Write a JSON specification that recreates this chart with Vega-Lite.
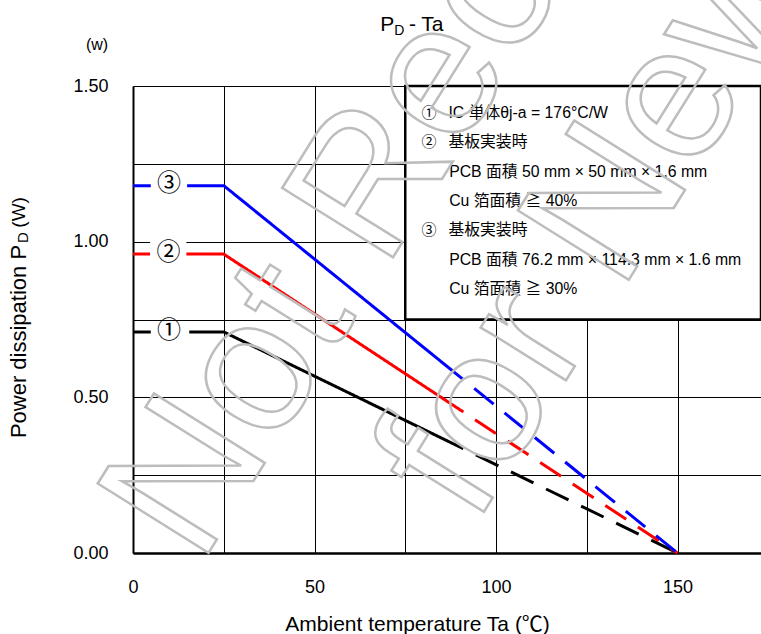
{
  "$schema": "https://vega.github.io/schema/vega-lite/v6.json",
  "width": 628,
  "height": 467,
  "autosize": "none",
  "padding": {"left": 133, "top": 86, "right": 0, "bottom": 81},
  "background": "white",
  "config": {
    "font": "Liberation Sans, Noto Sans CJK JP",
    "view": {"stroke": null}
  },
  "datasets": {
    "curves": [
      {"curve": "1", "id": "1s", "seg": "solid", "ta": 0, "pd": 0.71},
      {"curve": "1", "id": "1s", "seg": "solid", "ta": 25, "pd": 0.71},
      {"curve": "1", "id": "1s", "seg": "solid", "ta": 91, "pd": 0.335},
      {"curve": "1", "id": "1d", "seg": "dashed", "ta": 91, "pd": 0.335},
      {"curve": "1", "id": "1d", "seg": "dashed", "ta": 150, "pd": 0},
      {"curve": "2", "id": "2s", "seg": "solid", "ta": 0, "pd": 0.96},
      {"curve": "2", "id": "2s", "seg": "solid", "ta": 25, "pd": 0.96},
      {"curve": "2", "id": "2s", "seg": "solid", "ta": 91, "pd": 0.453},
      {"curve": "2", "id": "2d", "seg": "dashed", "ta": 91, "pd": 0.453},
      {"curve": "2", "id": "2d", "seg": "dashed", "ta": 150, "pd": 0},
      {"curve": "3", "id": "3s", "seg": "solid", "ta": 0, "pd": 1.18},
      {"curve": "3", "id": "3s", "seg": "solid", "ta": 25, "pd": 1.18},
      {"curve": "3", "id": "3s", "seg": "solid", "ta": 91, "pd": 0.557},
      {"curve": "3", "id": "3d", "seg": "dashed", "ta": 91, "pd": 0.557},
      {"curve": "3", "id": "3d", "seg": "dashed", "ta": 150, "pd": 0}
    ],
    "gaps": [
      {"curve": "1", "x1": 4.9, "x2": 15.5, "y1": 0.665, "y2": 0.745, "lx": 9.9, "ly": 0.713, "label": "①"},
      {"curve": "2", "x1": 4.7, "x2": 14.7, "y1": 0.91, "y2": 1.03, "lx": 9.8, "ly": 0.963, "label": "②"},
      {"curve": "3", "x1": 4.9, "x2": 14.9, "y1": 1.13, "y2": 1.235, "lx": 9.9, "ly": 1.184, "label": "③"}
    ],
    "box": [
      {"x1": 75, "x2": 173, "y1": 0.75, "y2": 1.5}
    ],
    "legendnums": [
      {"x": 79.5, "y": 1.413, "t": "①"},
      {"x": 79.5, "y": 1.320, "t": "②"},
      {"x": 79.5, "y": 1.037, "t": "③"}
    ],
    "legendtext": [
      {"x": 86.9, "y": 1.413, "t": "IC 単体θj-a = 176°C/W"},
      {"x": 86.9, "y": 1.320, "t": "基板実装時"},
      {"x": 87.1, "y": 1.224, "t": "PCB 面積 50 mm × 50 mm × 1.6 mm"},
      {"x": 87.1, "y": 1.131, "t": "Cu 箔面積 ≧ 40%"},
      {"x": 86.9, "y": 1.037, "t": "基板実装時"},
      {"x": 87.1, "y": 0.941, "t": "PCB 面積 76.2 mm × 114.3 mm × 1.6 mm"},
      {"x": 87.1, "y": 0.848, "t": "Cu 箔面積 ≧ 30%"}
    ],
    "watermark": [
      {"x": 18.5, "y": -0.042, "t": "Not Recommended"},
      {"x": 94.2, "y": 0.087, "t": "for New Designs"}
    ]
  },
  "layer": [
    {
      "data": {"name": "curves"},
      "mark": {"type": "line", "strokeWidth": 3, "strokeDashOffset": 25, "clip": false},
      "encoding": {
        "x": {
          "field": "ta", "type": "quantitative",
          "scale": {"domain": [0, 173], "nice": false, "zero": false},
          "axis": {
            "values": [0, 25, 50, 75, 100, 125, 150],
            "labelExpr": "datum.value % 50 == 0 ? datum.label : ''",
            "format": "d",
            "title": null,
            "grid": true, "gridColor": "#000", "gridWidth": 1, "gridOpacity": 1,
            "ticks": false,
            "domainColor": "#000", "domainWidth": 2.5,
            "labelFontSize": 18, "labelColor": "#000", "labelPadding": 25,
            "labelFlush": false, "labelOverlap": false
          }
        },
        "y": {
          "field": "pd", "type": "quantitative",
          "scale": {"domain": [0, 1.5], "nice": false},
          "axis": {
            "values": [0, 0.25, 0.5, 0.75, 1, 1.25, 1.5],
            "labelExpr": "datum.value % 0.5 == 0 ? datum.label : ''",
            "format": ".2f",
            "title": null,
            "grid": true, "gridColor": "#000", "gridWidth": 1, "gridOpacity": 1,
            "ticks": false,
            "domainColor": "#000", "domainWidth": 2,
            "labelFontSize": 18, "labelColor": "#000", "labelPadding": 25,
            "labelFlush": false, "labelOverlap": false
          }
        },
        "color": {
          "field": "curve", "type": "nominal",
          "scale": {"domain": ["1", "2", "3"], "range": ["#000000", "#ff0000", "#0000ff"]},
          "legend": null
        },
        "strokeDash": {
          "field": "seg", "type": "nominal",
          "scale": {"domain": ["solid", "dashed"], "range": [[1, 0], [25, 14]]},
          "legend": null
        },
        "detail": {"field": "id", "type": "nominal"}
      }
    },
    {
      "data": {"name": "gaps"},
      "mark": {"type": "rect", "fill": "white", "stroke": null},
      "encoding": {
        "x": {"field": "x1", "type": "quantitative"},
        "x2": {"field": "x2"},
        "y": {"field": "y1", "type": "quantitative"},
        "y2": {"field": "y2"}
      }
    },
    {
      "data": {"name": "gaps"},
      "mark": {"type": "text", "font": "Noto Sans CJK JP", "fontSize": 24, "align": "center", "baseline": "middle", "color": "#000"},
      "encoding": {
        "x": {"field": "lx", "type": "quantitative"},
        "y": {"field": "ly", "type": "quantitative"},
        "text": {"field": "label"}
      }
    },
    {
      "data": {"name": "box"},
      "mark": {"type": "rect", "fill": "white", "stroke": "#000", "strokeWidth": 2.5, "clip": false},
      "encoding": {
        "x": {"field": "x1", "type": "quantitative"},
        "x2": {"field": "x2"},
        "y": {"field": "y1", "type": "quantitative"},
        "y2": {"field": "y2"}
      }
    },
    {
      "data": {"name": "legendnums"},
      "mark": {"type": "text", "font": "Noto Sans CJK JP", "fontSize": 15, "align": "left", "baseline": "middle", "color": "#000"},
      "encoding": {
        "x": {"field": "x", "type": "quantitative"},
        "y": {"field": "y", "type": "quantitative"},
        "text": {"field": "t"}
      }
    },
    {
      "data": {"name": "legendtext"},
      "mark": {"type": "text", "fontSize": 15.8, "align": "left", "baseline": "middle", "color": "#000"},
      "encoding": {
        "x": {"field": "x", "type": "quantitative"},
        "y": {"field": "y", "type": "quantitative"},
        "text": {"field": "t"}
      }
    },
    {
      "data": {"values": [{"x": 68.1, "y": 1.677, "t": "P"}, {"x": 76.0, "y": 1.677, "t": "- Ta"}]},
      "mark": {"type": "text", "fontSize": 21, "align": "left", "baseline": "alphabetic", "color": "#000"},
      "encoding": {
        "x": {"field": "x", "type": "quantitative"},
        "y": {"field": "y", "type": "quantitative"},
        "text": {"field": "t"}
      }
    },
    {
      "data": {"values": [{"x": 72.0, "y": 1.664, "t": "D"}]},
      "mark": {"type": "text", "fontSize": 14, "align": "left", "baseline": "alphabetic", "color": "#000"},
      "encoding": {
        "x": {"field": "x", "type": "quantitative"},
        "y": {"field": "y", "type": "quantitative"},
        "text": {"field": "t"}
      }
    },
    {
      "data": {"values": [{"x": 78.4, "y": -0.2505, "t": "Ambient temperature Ta (℃)"}]},
      "mark": {"type": "text", "fontSize": 21, "align": "center", "baseline": "alphabetic", "color": "#000"},
      "encoding": {
        "x": {"field": "x", "type": "quantitative"},
        "y": {"field": "y", "type": "quantitative"},
        "text": {"field": "t"}
      }
    },
    {
      "data": {"values": [{"x": -9.9, "y": 1.632, "t": "(w)"}]},
      "mark": {"type": "text", "fontSize": 16, "align": "center", "baseline": "middle", "color": "#000"},
      "encoding": {
        "x": {"field": "x", "type": "quantitative"},
        "y": {"field": "y", "type": "quantitative"},
        "text": {"field": "t"}
      }
    },
    {
      "data": {"values": [{"x": -31.4, "y": 0.369, "t": "Power dissipation P"}]},
      "mark": {"type": "text", "fontSize": 22, "angle": 270, "align": "left", "baseline": "middle", "color": "#000"},
      "encoding": {
        "x": {"field": "x", "type": "quantitative"},
        "y": {"field": "y", "type": "quantitative"},
        "text": {"field": "t"}
      }
    },
    {
      "data": {"values": [{"x": -31.4, "y": 0.996, "t": "D"}]},
      "mark": {"type": "text", "fontSize": 15, "angle": 270, "align": "left", "baseline": "middle", "dy": 4, "color": "#000"},
      "encoding": {
        "x": {"field": "x", "type": "quantitative"},
        "y": {"field": "y", "type": "quantitative"},
        "text": {"field": "t"}
      }
    },
    {
      "data": {"values": [{"x": -31.4, "y": 1.045, "t": "(W)"}]},
      "mark": {"type": "text", "fontSize": 19, "angle": 270, "align": "left", "baseline": "middle", "color": "#000"},
      "encoding": {
        "x": {"field": "x", "type": "quantitative"},
        "y": {"field": "y", "type": "quantitative"},
        "text": {"field": "t"}
      }
    },
    {
      "data": {"name": "watermark"},
      "mark": {"type": "text", "fontSize": 190, "angle": 302, "align": "left", "baseline": "alphabetic", "fillOpacity": 0, "stroke": "#bdbdbd", "strokeWidth": 2.5, "clip": false},
      "encoding": {
        "x": {"field": "x", "type": "quantitative"},
        "y": {"field": "y", "type": "quantitative"},
        "text": {"field": "t"}
      }
    }
  ]
}
